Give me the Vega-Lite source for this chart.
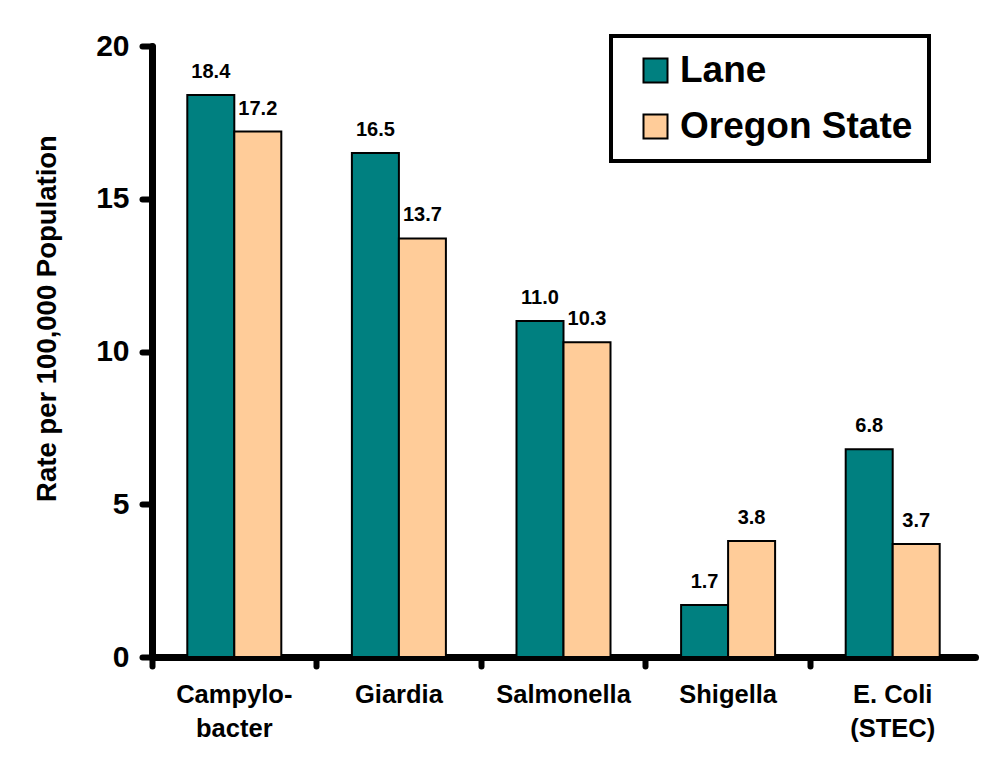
{
  "$schema": "https://vega.github.io/schema/vega-lite/v6.json",
  "width": 823,
  "height": 611,
  "autosize": {"type": "none"},
  "padding": {"left": 152, "top": 46, "right": 12, "bottom": 104},
  "background": "white",
  "config": {
    "font": "Liberation Sans",
    "view": {"stroke": null},
    "axis": {"grid": false, "domainColor": "black", "tickColor": "black", "labelColor": "black", "titleColor": "black"}
  },
  "data": {
    "values": [
      {"pathogen": "Campylobacter", "area": "Lane", "rate": 18.4},
      {"pathogen": "Campylobacter", "area": "Oregon State", "rate": 17.2},
      {"pathogen": "Giardia", "area": "Lane", "rate": 16.5},
      {"pathogen": "Giardia", "area": "Oregon State", "rate": 13.7},
      {"pathogen": "Salmonella", "area": "Lane", "rate": 11.0},
      {"pathogen": "Salmonella", "area": "Oregon State", "rate": 10.3},
      {"pathogen": "Shigella", "area": "Lane", "rate": 1.7},
      {"pathogen": "Shigella", "area": "Oregon State", "rate": 3.8},
      {"pathogen": "E. Coli (STEC)", "area": "Lane", "rate": 6.8},
      {"pathogen": "E. Coli (STEC)", "area": "Oregon State", "rate": 3.7}
    ]
  },
  "encoding": {
    "x": {
      "field": "pathogen",
      "type": "nominal",
      "sort": null,
      "scale": {"paddingInner": 0, "paddingOuter": 0},
      "axis": {
        "title": null,
        "labelAngle": 0,
        "bandPosition": 0,
        "domainWidth": 7,
        "domainCap": "round",
        "tickWidth": 6,
        "tickCap": "round",
        "tickSize": 9,
        "labelPadding": 16,
        "labelFontSize": 25.5,
        "labelFontWeight": "bold",
        "labelBaseline": "top",
        "labelLineHeight": 34,
        "labelExpr": "datum.value == 'Campylobacter' ? ['Campylo-', 'bacter'] : datum.value == 'E. Coli (STEC)' ? ['E. Coli', '(STEC)'] : datum.value"
      }
    },
    "xOffset": {
      "field": "area",
      "type": "nominal",
      "scale": {"paddingInner": 0, "paddingOuter": 0.751}
    },
    "y": {
      "field": "rate",
      "type": "quantitative",
      "scale": {"domain": [0, 20]},
      "axis": {
        "values": [0, 5, 10, 15, 20],
        "title": "Rate per 100,000 Population",
        "titleFontSize": 27.5,
        "titleFontWeight": "bold",
        "titleAngle": -90,
        "titleX": -105,
        "titleY": 272,
        "titleAlign": "center",
        "titleBaseline": "middle",
        "domainWidth": 7,
        "domainCap": "round",
        "tickWidth": 6,
        "tickCap": "round",
        "tickSize": 10,
        "labelPadding": 13,
        "labelFontSize": 30,
        "labelFontWeight": "bold"
      }
    }
  },
  "layer": [
    {
      "mark": {"type": "bar", "stroke": "black", "strokeWidth": 2},
      "encoding": {
        "color": {
          "field": "area",
          "type": "nominal",
          "scale": {"domain": ["Lane", "Oregon State"], "range": ["#008080", "#FFCC99"]},
          "legend": {
            "title": null,
            "orient": "none",
            "legendX": 459,
            "legendY": -10,
            "strokeColor": "black",
            "fillColor": "white",
            "padding": 16,
            "symbolOffset": 10,
            "symbolType": "square",
            "symbolSize": 576,
            "symbolStrokeColor": "black",
            "symbolStrokeWidth": 2,
            "symbolOpacity": 1,
            "labelFontSize": 37,
            "labelFontWeight": "bold",
            "labelColor": "black",
            "labelOffset": 6,
            "rowPadding": 18,
            "labelLimit": 400,
            "encode": {"legend": {"update": {"strokeWidth": {"value": 4}}}}
          }
        }
      }
    },
    {
      "mark": {"type": "text", "fontSize": 20, "fontWeight": "bold", "baseline": "alphabetic", "dy": -17, "color": "black"},
      "encoding": {
        "text": {"field": "rate", "type": "quantitative", "format": ".1f"}
      }
    }
  ]
}
